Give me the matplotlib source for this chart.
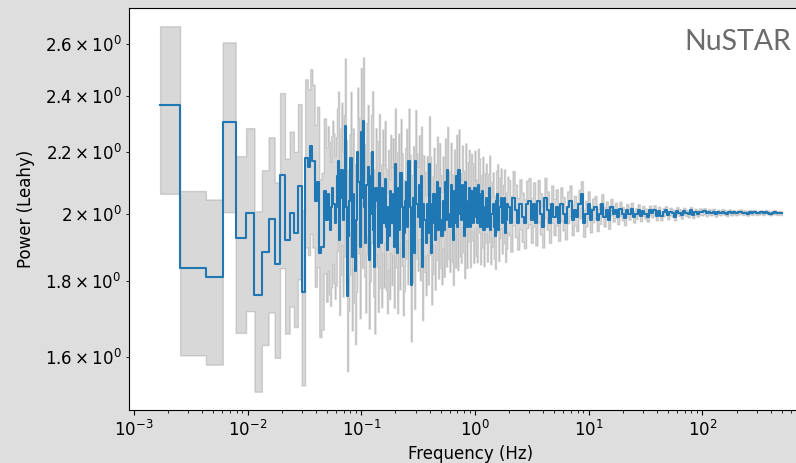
import numpy as np
import matplotlib
matplotlib.use('Agg')
import matplotlib.pyplot as plt

plt.rcParams['font.size'] = 12

# averaged periodogram (Leahy), log-rebinned above ~0.03 Hz
freq = [
    0.0017, 0.0034, 0.0052, 0.0069, 0.0088, 0.0106, 0.0124, 0.0143, 0.0163, 0.0183,
    0.0203, 0.0224, 0.0245, 0.0266, 0.0288, 0.0310, 0.03311, 0.03467, 0.03631, 0.03802,
    0.03981, 0.04169, 0.04365, 0.04571, 0.04786,
    0.05012, 0.05129, 0.05248, 0.05370, 0.05495, 0.05623, 0.05754, 0.05888, 0.06026, 0.06166,
    0.06310, 0.06457, 0.06607, 0.06761, 0.06918, 0.07079, 0.07244, 0.07413, 0.07586, 0.07762,
    0.07943, 0.08128, 0.08318, 0.08511, 0.08710, 0.08913, 0.09120, 0.09333, 0.09550, 0.09772,
    # 0.1 - 1 Hz
    0.1000, 0.1023, 0.1047, 0.1072, 0.1096, 0.1122, 0.1148, 0.1175, 0.1202, 0.1230,
    0.1259, 0.1288, 0.1318, 0.1349, 0.1380, 0.1413, 0.1445, 0.1479, 0.1514, 0.1549,
    0.1585, 0.1622, 0.1660, 0.1698, 0.1738, 0.1778, 0.1820, 0.1862, 0.1905, 0.1950,
    0.1995, 0.2042, 0.2089, 0.2138, 0.2188, 0.2239, 0.2291, 0.2344, 0.2399, 0.2455,
    0.2512, 0.2570, 0.2630, 0.2692, 0.2754, 0.2818, 0.2884, 0.2951, 0.3020, 0.3090,
    0.3162, 0.3236, 0.3311, 0.3388, 0.3467, 0.3548, 0.3631, 0.3715, 0.3802, 0.3890,
    0.3981, 0.4074, 0.4169, 0.4266, 0.4365, 0.4467, 0.4571, 0.4677, 0.4786, 0.4898,
    0.5012, 0.5129, 0.5248, 0.5370, 0.5495, 0.5623, 0.5754, 0.5888, 0.6026, 0.6166,
    0.6310, 0.6457, 0.6607, 0.6761, 0.6918, 0.7079, 0.7244, 0.7413, 0.7586, 0.7762,
    0.7943, 0.8128, 0.8318, 0.8511, 0.8710, 0.8913, 0.9120, 0.9333, 0.9550, 0.9772,
    # 1 - 10 Hz
    1.000, 1.023, 1.047, 1.072, 1.096, 1.122, 1.148, 1.175, 1.202, 1.230,
    1.259, 1.288, 1.318, 1.349, 1.380, 1.413, 1.445, 1.479, 1.514, 1.549,
    1.585, 1.622, 1.660, 1.698, 1.738, 1.778, 1.820, 1.862, 1.905, 1.950,
    1.995, 2.089, 2.188, 2.291, 2.399, 2.512, 2.630, 2.754, 2.884, 3.020,
    3.162, 3.311, 3.467, 3.631, 3.802, 3.981, 4.169, 4.365, 4.571, 4.786,
    5.012, 5.248, 5.495, 5.754, 6.026, 6.310, 6.607, 6.918, 7.244, 7.586,
    7.943, 8.318, 8.710, 9.120, 9.550,
    # 10 - 100 Hz
    10.00, 10.47, 10.96, 11.48, 12.02, 12.59, 13.18, 13.80, 14.45, 15.14,
    15.85, 16.60, 17.38, 18.20, 19.05, 19.95, 20.89, 21.88, 22.91, 23.99,
    25.12, 26.30, 27.54, 28.84, 30.20, 31.62, 33.11, 34.67, 36.31, 38.02,
    39.81, 41.69, 43.65, 45.71, 47.86, 50.12, 52.48, 54.95, 57.54, 60.26,
    63.10, 66.07, 69.18, 72.44, 75.86, 79.43, 83.18, 87.10, 91.20, 95.50,
    # 100 - 500 Hz
    100.0, 104.7, 109.6, 114.8, 120.2, 125.9, 131.8, 138.0, 144.5, 151.4,
    158.5, 166.0, 173.8, 182.0, 190.5, 199.5, 208.9, 218.8, 229.1, 239.9,
    251.2, 263.0, 275.4, 288.4, 302.0, 316.2, 331.1, 346.7, 363.1, 380.2,
    398.1, 416.9, 436.5, 457.1, 478.6, 501.2,
]

power = [
    2.368, 1.838, 1.813, 2.306, 1.924, 2.001, 1.762, 1.885, 1.983, 1.849,
    2.124, 1.919, 2.001, 1.939, 2.088, 1.771, 2.18, 2.15, 2.22, 2.17,
    2.04, 2.10, 1.88, 1.90, 2.07,
    1.98, 2.06, 2.00, 1.95, 2.02, 2.08, 2.03, 1.97, 2.02, 2.12,
    2.17, 1.92, 2.05, 2.14, 1.98, 2.10, 2.29, 2.02, 1.76, 1.93,
    2.04, 2.18, 1.87, 2.06, 1.95, 1.83, 1.98, 2.20, 2.10, 1.90,
    # 0.1 - 1 Hz
    2.27, 2.05, 2.31, 2.02, 1.91, 2.09, 2.15, 1.86, 2.00, 2.12,
    2.20, 1.95, 1.84, 2.08, 2.04, 1.90, 2.13, 1.97, 1.91, 2.08,
    1.97, 2.11, 1.96, 1.89, 2.02, 1.93, 2.07, 1.97, 2.06, 1.90,
    2.16, 2.02, 1.88, 2.08, 1.95, 2.13, 2.02, 1.87, 1.94, 2.04,
    2.10, 1.96, 2.17, 2.02, 1.79, 1.96, 2.05, 1.88, 2.17, 2.03,
    1.99, 2.09, 1.96, 2.12, 1.84, 2.03, 1.98, 1.91, 2.03, 1.94,
    2.16, 2.03, 1.88, 1.97, 2.06, 1.92, 2.01, 2.10, 1.95, 2.08,
    1.98, 1.93, 2.04, 1.95, 2.10, 1.98, 2.14, 2.00, 1.96, 2.09,
    1.99, 1.92, 2.07, 1.97, 2.12, 1.96, 2.14, 2.00, 1.98, 2.09,
    2.01, 1.93, 2.10, 1.96, 2.04, 2.08, 1.96, 2.07, 2.04, 1.97,
    # 1 - 10 Hz
    2.08, 1.99, 1.97, 2.09, 2.06, 1.96, 2.01, 2.07, 1.95, 2.02,
    2.05, 1.96, 2.02, 2.08, 1.95, 2.00, 2.03, 1.96, 1.93, 2.04,
    2.06, 1.95, 2.02, 2.05, 1.97, 2.00, 2.05, 1.94, 1.98, 2.03,
    2.02, 1.97, 2.05, 2.01, 1.97, 2.03, 1.99, 1.97, 2.03, 2.04,
    1.98, 2.03, 1.97, 2.04, 2.00, 1.96, 2.05, 2.01, 1.97, 2.03,
    1.99, 2.02, 1.97, 2.03, 2.00, 1.97, 2.02, 2.04, 1.98, 2.01,
    1.99, 2.03, 2.06, 1.97, 2.00,
    # 10 - 100 Hz
    2.03, 1.98, 2.01, 2.02, 1.98, 2.00, 2.03, 1.99, 2.01, 1.98,
    2.02, 2.00, 2.01, 1.99, 2.015, 2.00, 1.985, 2.01, 2.00, 2.015,
    1.99, 2.00, 2.012, 1.992, 2.008, 2.00, 1.99, 2.01, 2.002, 2.012,
    1.993, 2.008, 1.992, 2.004, 2.011, 1.994, 2.006, 2.001, 1.990, 2.009,
    2.003, 1.995, 2.007, 2.002, 1.998, 2.010, 1.996, 2.005, 2.000, 2.006,
    # 100 - 500 Hz
    2.004, 2.007, 2.001, 2.005, 2.003, 2.006, 1.999, 2.004, 2.002, 2.006,
    2.003, 2.000, 2.005, 2.002, 2.004, 2.001, 2.004, 2.006, 2.002, 2.003,
    2.000, 2.004, 2.002, 2.005, 2.001, 2.003, 2.004, 2.001, 2.005, 2.003,
    2.000, 2.003, 2.004, 2.001, 2.002, 2.001,
]

power_err = [
    0.306, 0.233, 0.231, 0.302, 0.262, 0.282, 0.245, 0.254, 0.268, 0.250,
    0.287, 0.259, 0.270, 0.262, 0.282, 0.239, 0.283, 0.275, 0.282, 0.273,
    0.255, 0.260, 0.229, 0.230, 0.248,
    0.236, 0.230, 0.236, 0.217, 0.236, 0.230, 0.235, 0.218, 0.232, 0.234,
    0.247, 0.211, 0.232, 0.235, 0.222, 0.230, 0.254, 0.221, 0.194, 0.211,
    0.222, 0.236, 0.202, 0.222, 0.209, 0.197, 0.210, 0.232, 0.221, 0.200,
    # 0.1 - 1 Hz
    0.236, 0.212, 0.238, 0.207, 0.195, 0.212, 0.217, 0.187, 0.200, 0.211,
    0.218, 0.192, 0.180, 0.203, 0.198, 0.183, 0.204, 0.188, 0.181, 0.198,
    0.187, 0.199, 0.184, 0.177, 0.188, 0.179, 0.190, 0.180, 0.187, 0.172,
    0.194, 0.181, 0.167, 0.184, 0.172, 0.186, 0.176, 0.162, 0.167, 0.175,
    0.181, 0.168, 0.184, 0.171, 0.150, 0.164, 0.170, 0.155, 0.178, 0.165,
    0.161, 0.168, 0.157, 0.169, 0.145, 0.159, 0.154, 0.148, 0.156, 0.149,
    0.166, 0.155, 0.143, 0.149, 0.155, 0.143, 0.149, 0.154, 0.142, 0.151,
    0.143, 0.138, 0.145, 0.137, 0.147, 0.138, 0.148, 0.137, 0.133, 0.142,
    0.135, 0.130, 0.139, 0.131, 0.140, 0.128, 0.139, 0.129, 0.127, 0.133,
    0.127, 0.121, 0.130, 0.122, 0.126, 0.128, 0.120, 0.125, 0.122, 0.118,
    # 1 - 10 Hz
    0.125, 0.118, 0.116, 0.122, 0.119, 0.112, 0.113, 0.114, 0.107, 0.109,
    0.111, 0.104, 0.107, 0.108, 0.101, 0.101, 0.102, 0.096, 0.095, 0.098,
    0.099, 0.092, 0.095, 0.095, 0.091, 0.091, 0.092, 0.085, 0.087, 0.088,
    0.087, 0.085, 0.086, 0.082, 0.079, 0.079, 0.076, 0.075, 0.075, 0.073,
    0.069, 0.069, 0.067, 0.067, 0.064, 0.063, 0.064, 0.060, 0.059, 0.059,
    0.056, 0.057, 0.053, 0.053, 0.052, 0.049, 0.050, 0.049, 0.046, 0.046,
    0.044, 0.045, 0.043, 0.041, 0.040,
    # 10 - 100 Hz
    0.040, 0.038, 0.037, 0.035, 0.034, 0.032, 0.031, 0.030, 0.028, 0.027,
    0.026, 0.025, 0.024, 0.023, 0.022, 0.021, 0.021, 0.020, 0.019, 0.019,
    0.018, 0.017, 0.017, 0.016, 0.016, 0.016, 0.015, 0.015, 0.014, 0.014,
    0.014, 0.013, 0.013, 0.013, 0.012, 0.012, 0.012, 0.012, 0.011, 0.011,
    0.011, 0.011, 0.011, 0.010, 0.010, 0.010, 0.010, 0.010, 0.010, 0.010,
    # 100 - 500 Hz
    0.010, 0.010, 0.009, 0.009, 0.009, 0.009, 0.009, 0.008, 0.008, 0.008,
    0.008, 0.008, 0.008, 0.008, 0.007, 0.007, 0.007, 0.007, 0.007, 0.007,
    0.007, 0.007, 0.007, 0.006, 0.006, 0.006, 0.006, 0.006, 0.006, 0.006,
    0.006, 0.006, 0.006, 0.006, 0.006, 0.006,
]

freq = np.array(freq)
power = np.array(power)
power_err = np.array(power_err)

fig = plt.figure(figsize=(7.96, 4.63), dpi=100)
fig.patch.set_facecolor('#dedede')

# axes runs past the right edge of the figure (cropped screenshot)
ax = fig.add_axes([129 / 796, 53 / 463, 684 / 796, 402 / 463])

ax.fill_between(freq, power - power_err, power + power_err,
                step='mid', color='grey', alpha=0.3)
ax.plot(freq, power, drawstyle='steps-mid', color='C0')

ax.set_xscale('log')
ax.set_yscale('log')
ax.set_xlabel('Frequency (Hz)')
ax.set_ylabel('Power (Leahy)', labelpad=7)

fig.text(684 / 796, 1 - 50 / 463, 'NuSTAR', fontsize=20.5, family='Lato',
         color='#6b6b6b', va='baseline')

fig.savefig('out.png', dpi=100, facecolor=fig.get_facecolor())
